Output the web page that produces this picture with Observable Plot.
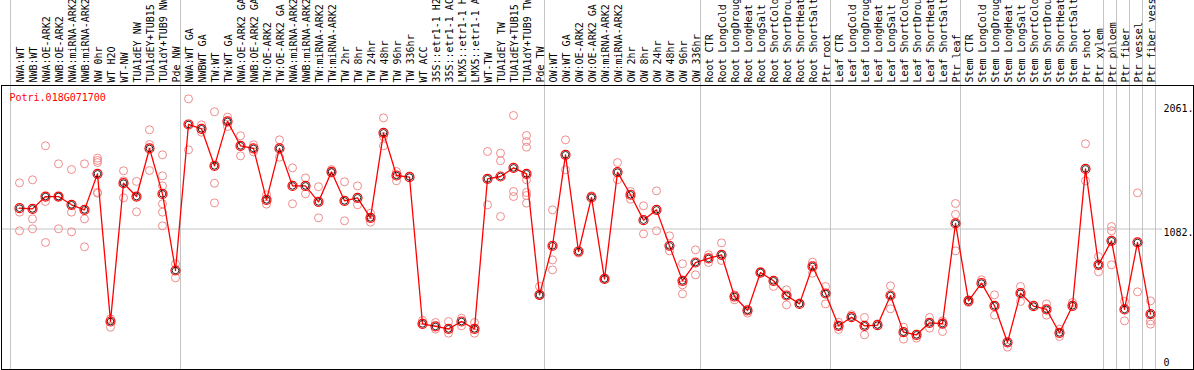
<!DOCTYPE html>
<html>
<head>
<meta charset="utf-8">
<script src="https://cdn.jsdelivr.net/npm/d3@7"></script>
<script src="https://cdn.jsdelivr.net/npm/@observablehq/plot@0.6"></script>
<style>
  html, body { margin: 0; padding: 0; background: #fff; }
  #chart svg { display: block; }
</style>
</head>
<body>
<div id="chart"></div>
<script>
const geneName = "Potri.018G071700";

const categories = [
  "NWA:WT","NWB:WT","NWA:OE-ARK2","NWB:OE-ARK2","NWA:miRNA-ARK2","NWB:miRNA-ARK2","NW 0hr","WT H2O","WT-NW","TUA1dEY NW","TUA1dEY+TUB15 NW","TUA1dY+TUB9 NW","Pde NW",
  "NWA:WT GA","NWBWT GA","TW:WT","TW:WT GA","NWA:OE-ARK2 GA","NWB:OE-ARK2 GA","TW:OE-ARK2","TW:OE-ARK2 GA","NWA:miRNA-ARK2 GA","NWB:miRNA-ARK2 GA","TW:miRNA-ARK2","TW:miRNA-ARK2 GA","TW 2hr","TW 8hr","TW 24hr","TW 48hr","TW 96hr","TW 336hr","WT ACC","35S::etr1-1 H2O","35S::etr1-1 ACC","LMX5::etr1-1 H2O","LMX5::etr1-1 ACC","WT-TW","TUA1dEY TW","TUA1dEY+TUB15 TW","TUA1dY+TUB9 TW","Pde TW",
  "OW:WT","OW:WT GA","OW:OE-ARK2","OW:OE-ARK2 GA","OW:miRNA-ARK2","OW:miRNA-ARK2 GA","OW 2hr","OW 8hr","OW 24hr","OW 48hr","OW 96hr","OW 336hr",
  "Root CTR","Root LongCold","Root LongDrought","Root LongHeat","Root LongSalt","Root ShortCold","Root ShortDrought","Root ShortHeat","Root ShortSalt","Ptr root",
  "Leaf CTR","Leaf LongCold","Leaf LongDrought","Leaf LongHeat","Leaf LongSalt","Leaf ShortCold","Leaf ShortDrought","Leaf ShortHeat","Leaf ShortSalt","Ptr leaf",
  "Stem CTR","Stem LongCold","Stem LongDrought","Stem LongHeat","Stem LongSalt","Stem ShortCold","Stem ShortDrought","Stem ShortHeat","Stem ShortSalt","Ptr shoot","Ptr xylem",
  "Ptr phloem","Ptr fiber","Ptr vessel","Ptr fiber vessel"
];

// last category of each group (a separator follows it)
const groupEnds = ["Pde NW","Pde TW","OW 336hr","Ptr root","Ptr leaf","Ptr xylem","Ptr phloem","Ptr fiber","Ptr vessel","Ptr fiber vessel"];
const groupStarts = ["NWA:WT"];

const means = [
  1246,1241,1338,1338,1273,1233,1517,353,1443,1338,1717,1359,755,
  1906,1872,1580,1930,1738,1717,1312,1717,1422,1422,1296,1533,1304,1328,1170,1840,1504,1491,335,314,295,353,295,1478,1496,1564,1517,563,
  950,1667,905,1331,689,1530,1352,1152,1233,950,674,818,
  850,879,550,440,739,674,558,492,787,574,
  319,387,319,324,558,269,248,343,337,1126,
  516,655,477,188,576,474,448,264,477,1556,800,
  989,448,976,411
];

const replicates = [
  [1446,1215,1068],[1470,1162,1084],[1738,1299,976],[1596,1338,1084],[1551,1215,1060],[1596,1162,942],[1641,1622,1606,1370,1365],[374,308],[1541,1462,1328],[1457,1218],[1864,1748,1543],[1667,1501,1422,1281,1215,1107],[808,697],
  [2108,1706],[1903,1845],[2006,1443,1288],[1964,1890],[1817,1659],[1746,1690],[1352,1278],[1785,1648],[1564,1281],[1485,1359],[1415,1170],[1551,1522],[1454,1147],[1422,1273],[1207,1136],[1958,1811,1738],[1535,1462],[1501],[361],[345,293],[353,261],[379,319],[345,261],[1693,1273],[1680,1620,1181],[1977,1378,1338],[1819,1772,1727,1470,1370,1346,1286],[629,558],
  [1233,839,760],[1785,1549],[892],[1344],[689],[1606,1470],[1378,1317],[1265,1044],[1383,1068],[1028,910],[808,642,571],[918,721],
  [879,818],[973,834],[563,524],[450,419],[747],[629],[603,484],[498],[821,734],[629,492],
  [348,290],[406],[385,248],[335],[634,453],[308,214],[222],[385,301],[358,274],[1283,1197,910],
  [524,503],[682],[563,403],[151],[629,511],[484],[492,403],[293,235],[503],[1754,1462],[865,745],
  [1102,1068,800],[511,358],[1367,587],[516,358,332]
];

const tickTop = [2061, 1082];
const tickBottom = [0];
const gridValues = [1082];

const meanData = categories.map((c, i) => ({cat: c, v: means[i]}));
const repData = categories.flatMap((c, i) => replicates[i].map(v => ({cat: c, v})));

const font = "'DejaVu Sans Mono', monospace";
const sepColor = "#c4c4c4";

const chart = Plot.plot({
  width: 1194,
  height: 370,
  marginTop: 85,
  marginBottom: 1,
  marginLeft: 1,
  marginRight: 1,
  style: {fontFamily: font, fontSize: "10px", background: "#fff", overflow: "visible"},
  x: {type: "point", domain: categories, range: [19.3, 1150.3], padding: 0, axis: null},
  y: {domain: [-25.2, 2213.2], axis: null},
  marks: [
    Plot.ruleY(gridValues, {y: d => d, stroke: sepColor, strokeWidth: 1, insetRight: 31}),
    Plot.ruleX(groupEnds, {x: d => d, dx: 5, stroke: sepColor, strokeWidth: 1, insetTop: -85}),
    Plot.ruleX(groupStarts, {x: d => d, dx: -9, stroke: sepColor, strokeWidth: 1, insetTop: -85}),
    Plot.frame({stroke: "black", strokeWidth: 1}),
    Plot.text(categories, {x: d => d, frameAnchor: "top", rotate: -90, textAnchor: "start", dy: -3, dx: -3, fill: "black", fontSize: 10}),
    Plot.text([geneName], {frameAnchor: "top-left", textAnchor: "start", lineAnchor: "top", dx: 8, dy: 8, fill: "red", fontSize: 10}),
    Plot.text(tickTop, {y: d => d, text: d => d + ".", frameAnchor: "right", textAnchor: "start", lineAnchor: "top", dx: -30, fill: "black", fontSize: 10}),
    Plot.text(tickBottom, {y: d => d, text: d => String(d), frameAnchor: "right", textAnchor: "start", lineAnchor: "bottom", dx: -30, fill: "black", fontSize: 10}),
    Plot.dot(repData, {x: "cat", y: "v", r: 4, stroke: "#f08c8c", strokeWidth: 1, fill: "none"}),
    Plot.line(meanData, {x: "cat", y: "v", stroke: "red", strokeWidth: 1.3}),
    Plot.dot(meanData, {x: "cat", y: "v", r: 4.5, stroke: "red", strokeWidth: 1.2, fill: "none"}),
    Plot.dot(meanData, {x: "cat", y: "v", r: 3.3, stroke: "black", strokeWidth: 0.8, fill: "none"})
  ]
});
document.getElementById("chart").appendChild(chart);
</script>
</body>
</html>
